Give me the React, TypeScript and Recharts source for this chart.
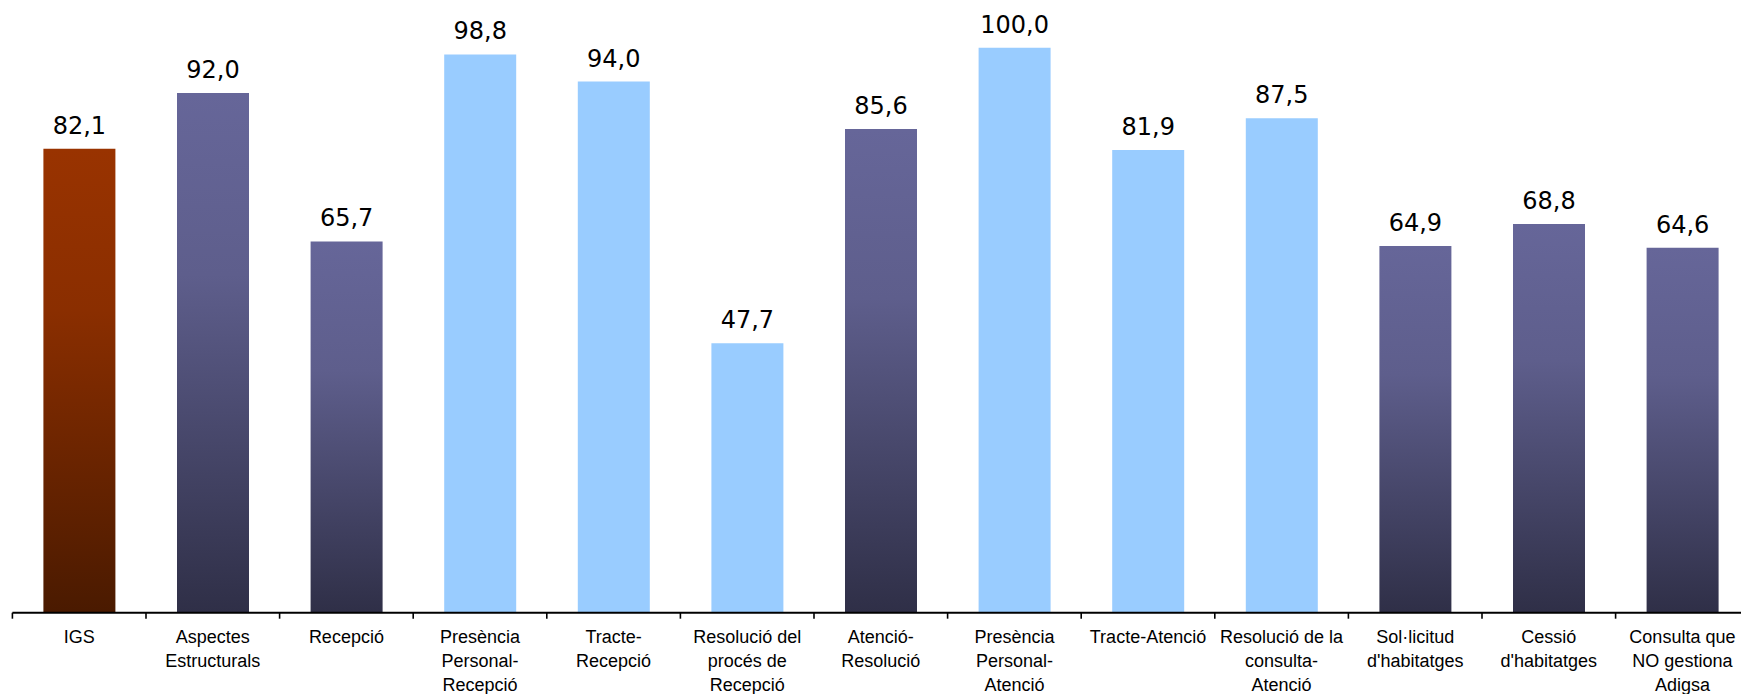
import React from "react";
import { BarChart, Bar, XAxis, YAxis, Cell, LabelList } from "recharts";

// Category labels (line breaks as they wrap under each bar)
const categories: string[] = [
  "IGS",
  "Aspectes\nEstructurals",
  "Recepció",
  "Presència\nPersonal-\nRecepció",
  "Tracte-\nRecepció",
  "Resolució del\nprocés de\nRecepció",
  "Atenció-\nResolució",
  "Presència\nPersonal-\nAtenció",
  "Tracte-Atenció",
  "Resolució de la\nconsulta-\nAtenció",
  "Sol·licitud\nd'habitatges",
  "Cessió\nd'habitatges",
  "Consulta que\nNO gestiona\nAdigsa",
];

// Satisfaction scores (0-100)
const scores: number[] = [82.1, 92.0, 65.7, 98.8, 94.0, 47.7, 85.6, 100.0, 81.9, 87.5, 64.9, 68.8, 64.6];

// Kind of indicator: global index, block, or attribute within a block
const kinds: string[] = [
  "index",
  "block",
  "block",
  "attribute",
  "attribute",
  "attribute",
  "block",
  "attribute",
  "attribute",
  "attribute",
  "block",
  "block",
  "block",
];

const data = categories.map((name, i) => ({ name, score: scores[i], kind: kinds[i] }));

const fillFor: Record<string, string> = {
  index: "url(#gradIndex)",
  block: "url(#gradBlock)",
  attribute: "#99CCFF",
};

// Layout
const CHART_W = 1760;
const CHART_H = 694;
const PLOT_LEFT = 12.4;
const PLOT_RIGHT = 1749.2;
const PLOT_TOP = 47.7;
const AXIS_Y = 612.7;
const BAND = (PLOT_RIGHT - PLOT_LEFT) / categories.length;

const formatScore = (v: number) => v.toFixed(1).replace(".", ",");

const CategoryTick = (props: any) => {
  const { x, y, payload } = props;
  const lines = String(payload.value).split("\n");
  const left = x - BAND / 2;
  return (
    <g>
      <line x1={left} x2={left} y1={y} y2={y + 6} stroke="#000" strokeWidth={1.6} />
      <text
        x={x}
        y={y + 30}
        textAnchor="middle"
        fontFamily="'Liberation Sans', Arial, sans-serif"
        fontSize={18}
        fill="#000"
      >
        {lines.map((l, i) => (
          <tspan key={i} x={x} dy={i === 0 ? 0 : 24}>
            {l}
          </tspan>
        ))}
      </text>
    </g>
  );
};

const ValueLabel = (props: any) => {
  const { x, y, width, value } = props;
  return (
    <text
      x={Number(x) + Number(width) / 2}
      y={Number(y) - 15}
      textAnchor="middle"
      fontFamily="'DejaVu Sans', Verdana, sans-serif"
      fontSize={24}
      fill="#000"
    >
      {formatScore(Number(value))}
    </text>
  );
};

export default function App() {
  return (
    <div
      style={{
        position: "absolute",
        left: 0,
        top: 0,
        width: 1741,
        height: 694,
        overflow: "hidden",
        background: "#fff",
      }}
    >
      <BarChart
        width={CHART_W}
        height={CHART_H}
        data={data}
        margin={{ top: PLOT_TOP, right: CHART_W - PLOT_RIGHT, bottom: 0, left: PLOT_LEFT }}
      >
        <defs>
          <linearGradient id="gradIndex" x1="0" y1="0" x2="0" y2="1">
            <stop offset="0%" stopColor="#993300" />
            <stop offset="35%" stopColor="#8A2E00" />
            <stop offset="100%" stopColor="#4A1A00" />
          </linearGradient>
          <linearGradient id="gradBlock" x1="0" y1="0" x2="0" y2="1">
            <stop offset="0%" stopColor="#666699" />
            <stop offset="35%" stopColor="#5E5E8C" />
            <stop offset="100%" stopColor="#2F2F47" />
          </linearGradient>
        </defs>
        <XAxis
          dataKey="name"
          interval={0}
          height={CHART_H - AXIS_Y}
          tickSize={0}
          tickMargin={0}
          tickLine={false}
          axisLine={{ stroke: "#000", strokeWidth: 2 }}
          tick={<CategoryTick />}
        />
        <YAxis hide domain={[0, 100]} />
        <Bar dataKey="score" barSize={72} isAnimationActive={false}>
          {data.map((d, i) => (
            <Cell key={i} fill={fillFor[d.kind]} />
          ))}
          <LabelList dataKey="score" content={<ValueLabel />} />
        </Bar>
      </BarChart>
    </div>
  );
}
